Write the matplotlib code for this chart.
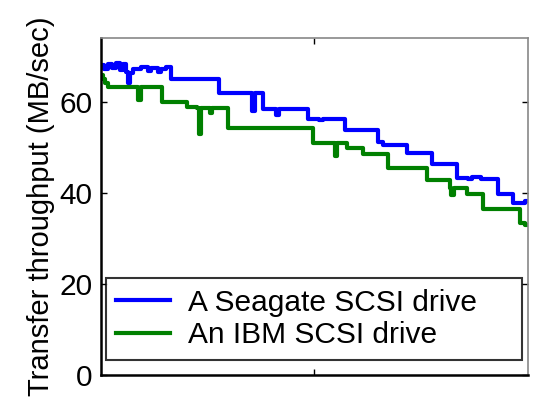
import matplotlib
matplotlib.use('Agg')
import matplotlib.pyplot as plt

# throughput vs position on disk (percent of capacity)
seagate_x = [0, 0.7, 1.6, 2.6, 3.5, 4.5, 5.2, 5.9, 6.3, 6.8, 7.5, 9.4, 11.0, 11.7,
             13.3, 14.0, 15.2, 16.4, 27.6, 35.4, 36.1, 37.9, 41.0, 41.7, 48.5,
             51.0, 52.0, 53.8, 57.1, 64.9, 66.0, 71.7, 77.5, 83.4, 86.0, 87.0,
             89.0, 93.0, 96.5, 99.3]
seagate_y = [68.0, 67.2, 68.3, 67.4, 68.6, 67.0, 68.4, 66.5, 64.2, 66.3, 67.3, 67.6,
             66.8, 67.5, 66.6, 67.3, 67.7, 65.0, 62.0, 58.0, 62.0, 58.4, 57.2,
             58.4, 56.2, 55.9, 56.3, 56.2, 53.8, 51.1, 50.6, 48.7, 46.3, 43.3,
             43.0, 43.5, 43.1, 39.8, 37.8, 38.3]

ibm_x = [0, 0.5, 1.0, 1.6, 8.7, 9.4, 14.3, 20.1, 22.5, 23.0, 23.4, 25.5, 26.0,
         29.7, 49.6, 54.8, 55.3, 57.6, 61.4, 67.2, 76.3, 81.7, 82.1, 82.6,
         85.7, 89.5, 98.1, 99.3]
ibm_y = [65.8, 65.0, 64.2, 63.2, 60.3, 63.2, 59.9, 58.8, 58.6, 53.0, 58.6, 57.5,
         58.6, 54.3, 51.0, 48.0, 51.0, 49.9, 48.5, 45.5, 42.9, 41.1, 39.5,
         41.1, 39.8, 36.5, 33.4, 33.0]

labels = ['A Seagate SCSI drive', 'An IBM SCSI drive']

plt.rcParams['font.family'] = ['Liberation Sans', 'DejaVu Sans']

fig = plt.figure(figsize=(5.42, 4.16), dpi=100)
ax = fig.add_axes([0.186, 0.0986, 0.788, 0.81])

ax.plot(seagate_x + [100], seagate_y + [seagate_y[-1]], drawstyle='steps-post',
        color='#0000ff', lw=3, label=labels[0])
ax.plot(ibm_x + [100], ibm_y + [ibm_y[-1]], drawstyle='steps-post',
        color='#008000', lw=3, label=labels[1])

ax.set_xlim(0, 100)
ax.set_ylim(0, 74)
ax.set_yticks([0, 20, 40, 60])
ax.set_xticks([50])
ax.set_xticklabels([])
ax.tick_params(direction='in', length=4, width=1, labelsize=21.5,
               top=True, right=True, pad=6)
ax.set_ylabel('Transfer throughput (MB/sec)', fontsize=21, labelpad=3)

for s in ['left', 'bottom']:
    ax.spines[s].set_linewidth(1.8)
    ax.spines[s].set_color('black')
for s in ['top', 'right']:
    ax.spines[s].set_linewidth(1.2)
    ax.spines[s].set_color('#888888')

leg = ax.legend(loc='lower left', bbox_to_anchor=(0.012, 0.045, 0.974, 0.24),
                mode='expand', fontsize=21.5, frameon=True, fancybox=False,
                handlelength=1.8, handletextpad=0.6, labelspacing=0.15,
                borderpad=0.35, borderaxespad=0)
leg.get_frame().set_edgecolor('black')
leg.get_frame().set_linewidth(1.5)

fig.savefig('out.png', dpi=100)
plt.close()
